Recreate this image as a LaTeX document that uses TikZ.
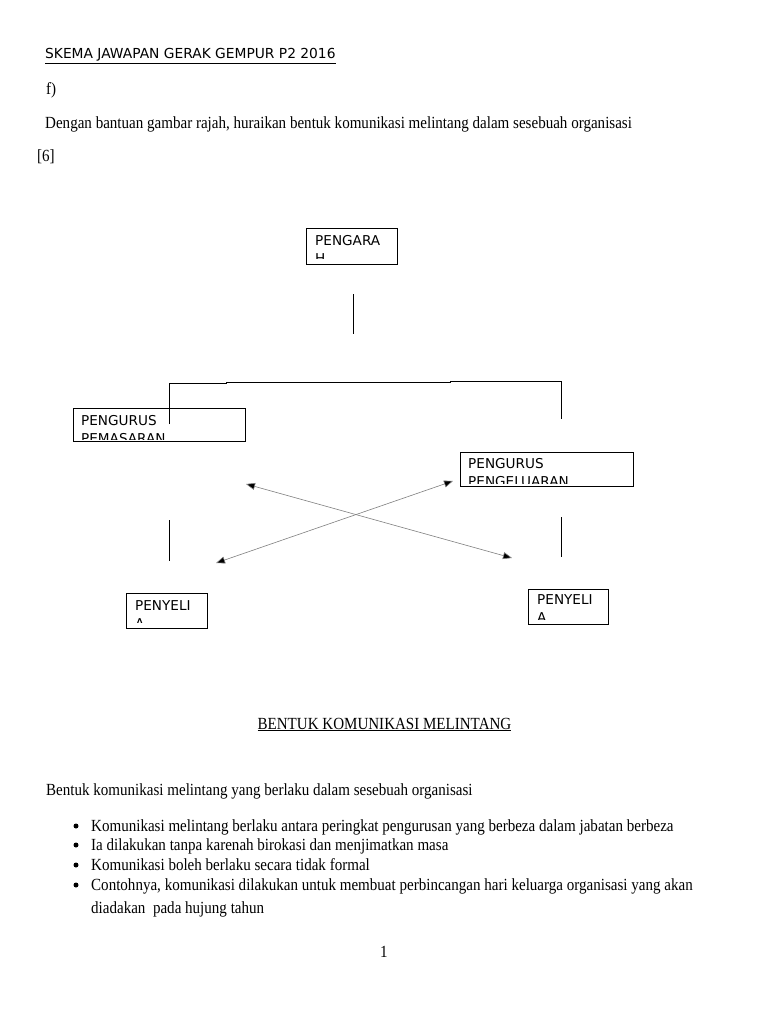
\documentclass[tikz,border=0pt]{standalone}
\usepackage{fontspec}
\setmainfont{Liberation Serif}[FakeStretch=0.885]
\newfontfamily\boxfont{DejaVu Sans}
\usetikzlibrary{arrows.meta}
\begin{document}
\begin{tikzpicture}[x=1pt,y=-1pt,
  body/.style={anchor=base west,inner sep=0pt,font=\fontsize{17}{20}\selectfont},
  dot/.style={circle,fill=black,inner sep=0pt,minimum size=5pt},
  orgbox/.style={draw,line width=0.8pt,inner sep=0pt,anchor=north west},
  boxtext/.style={anchor=north west,inner sep=0pt,align=left,font=\boxfont\fontsize{13.6}{18}\selectfont},
  link/.style={line width=0.9pt},
  cross/.style={draw=gray,line width=0.6pt,{Triangle[length=9pt,width=7pt,fill=black]}-{Triangle[length=9pt,width=7pt,fill=black]}}
]
\useasboundingbox (0,0) rectangle (768,1024);
\fill[white] (0,0) rectangle (768,1024);

% header texts
\node[body,font=\boxfont\fontsize{13.8}{15}\selectfont] (title) at (45,59) {\underline{SKEMA JAWAPAN GERAK GEMPUR P2 2016}};
\node[body] (f) at (46,95) {f)};
\node[body] (q) at (45,129) {Dengan bantuan gambar rajah, huraikan bentuk komunikasi melintang dalam sesebuah organisasi};
\node[body] (mark) at (37,162) {[6]};

% boxes
\node[orgbox,minimum width=91pt,minimum height=36pt] (pa) at (306,228) {};
\node[orgbox,minimum width=172pt,minimum height=33pt] (pm) at (73,408) {};
\node[orgbox,minimum width=173pt,minimum height=34pt] (pp) at (460,452) {};
\node[orgbox,minimum width=81pt,minimum height=35pt] (s1) at (126,593) {};
\node[orgbox,minimum width=80pt,minimum height=35pt] (s2) at (528,589) {};

\begin{scope}
\clip (pa.north west) rectangle ([yshift=6]pa.south east);
\node[boxtext] (pat) at ([shift={(9,7)}]pa.north west) {PENGARA\\H};
\end{scope}
\begin{scope}
\clip (pm.north west) rectangle ([yshift=2]pm.south east);
\node[boxtext] (pmt) at ([shift={(8,7)}]pm.north west) {PENGURUS\\PEMASARAN};
\end{scope}
\begin{scope}
\clip (pp.north west) rectangle ([yshift=3]pp.south east);
\node[boxtext] (ppt) at ([shift={(8,6)}]pp.north west) {PENGURUS\\PENGELUARAN};
\end{scope}
\begin{scope}
\clip (s1.north west) rectangle ([yshift=6]s1.south east);
\node[boxtext] (s1t) at ([shift={(9,7)}]s1.north west) {PENYELI\\A};
\end{scope}
\begin{scope}
\clip (s2.north west) rectangle ([yshift=5]s2.south east);
\node[boxtext] (s2t) at ([shift={(9,5)}]s2.north west) {PENYELI\\A};
\end{scope}

% connector coordinates
\coordinate (v1a) at (353,294); \coordinate (v1b) at (353,334);
\coordinate (ha) at (169,424); \coordinate (hb) at (169,383);
\coordinate (hc) at (226,383); \coordinate (hd) at (226,382);
\coordinate (he) at (450,382); \coordinate (hf) at (450,381);
\coordinate (hg) at (561,381); \coordinate (hh) at (561,419);
\coordinate (v2a) at (169,520); \coordinate (v2b) at (169,561);
\coordinate (v3a) at (561,517); \coordinate (v3b) at (561,557);
\coordinate (x1a) at (246,484); \coordinate (x1b) at (512,558);
\coordinate (x2a) at (216,563); \coordinate (x2b) at (453,481);

\draw[link] (v1a) -- (v1b);
\draw[link] (ha) -- (hb) -- (hc) -- (hd) -- (he) -- (hf) -- (hg) -- (hh);
\draw[link] (v2a) -- (v2b);
\draw[link] (v3a) -- (v3b);
\draw[cross] (x1a) -- (x1b);
\draw[cross] (x2a) -- (x2b);

% lower text
\node[body,anchor=base] (sub) at (384.5,729) {\underline{BENTUK KOMUNIKASI MELINTANG}};
\node[body] (intro) at (46,795) {Bentuk komunikasi melintang yang berlaku dalam sesebuah organisasi};
\node[dot] (b1d) at (76,826) {};
\node[body] (b1) at (91,831) {Komunikasi melintang berlaku antara peringkat pengurusan yang berbeza dalam jabatan berbeza};
\node[dot] (b2d) at (76,845) {};
\node[body] (b2) at (91,850) {Ia dilakukan tanpa karenah birokasi dan menjimatkan masa};
\node[dot] (b3d) at (76,865) {};
\node[body] (b3) at (91,870) {Komunikasi boleh berlaku secara tidak formal};
\node[dot] (b4d) at (76,885) {};
\node[body] (b4) at (91,890) {Contohnya, komunikasi dilakukan untuk membuat perbincangan hari keluarga organisasi yang akan};
\node[body] (b4b) at (91,913) {diadakan\ \ pada hujung tahun};
\node[body,anchor=base] (pg) at (384,957) {1};
\end{tikzpicture}
\end{document}
